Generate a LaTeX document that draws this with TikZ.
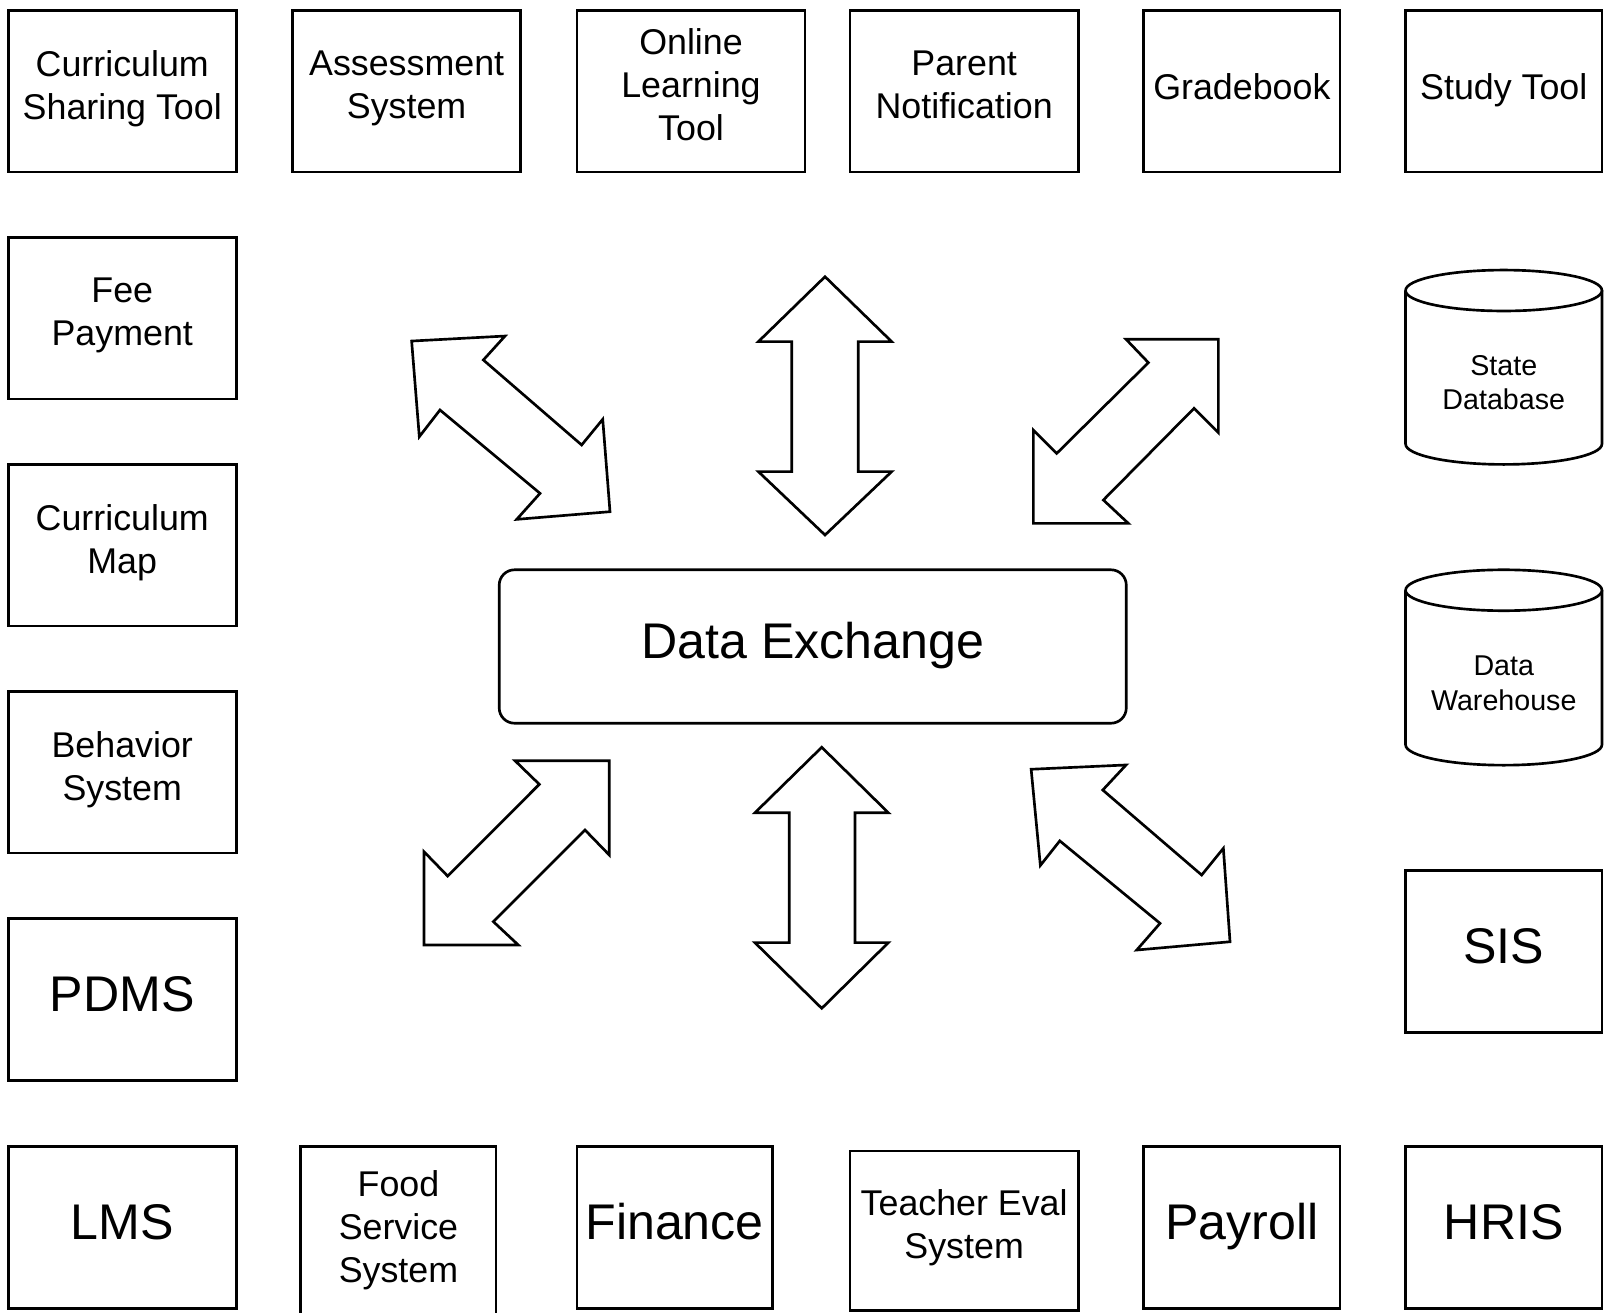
\documentclass[tikz,border=0pt]{standalone}
\usepackage{fontspec}
\setmainfont{Liberation Sans}
\begin{document}
\begin{tikzpicture}[x=1pt,y=-1pt,
  box/.style={draw, line width=2.6pt, minimum width=223pt, minimum height=158pt, inner sep=0pt, align=center, font=\fontsize{35}{42}\selectfont, execute at begin node=\strut, execute at end node=\strut},
  nbox/.style={box, minimum width=192pt},
  big/.style={font=\fontsize{49}{58}\selectfont},
  cyltext/.style={align=center, inner sep=0pt, font=\fontsize{28}{34}\selectfont},
  hub/.style={draw, line width=2.6pt, rounded corners=15pt, minimum width=613pt, minimum height=150pt, inner sep=0pt, font=\fontsize{49}{58}\selectfont, execute at begin node=\strut},
  dblarrow/.style={draw, fill=white, line width=2.6pt, line join=miter},
  cyl/.style={draw, fill=white, line width=2.6pt}
]
\useasboundingbox (0,0) rectangle (1568,1283.5);

% top row
\node[box] (cst) at (119.5,89) {Curriculum\\Sharing Tool};
\node[box] (asm) at (397.5,89) {Assessment\\System};
\node[box] (olt) at (675.5,89) {Online\\Learning\\Tool};
\node[box] (pn)  at (942.5,89) {Parent\\Notification};
\node[nbox] (gb) at (1214,89) {Gradebook};
\node[nbox] (st) at (1470,89) {Study Tool};

% left column
\node[box] (fee) at (119.5,311) {Fee\\Payment};
\node[box] (cm)  at (119.5,533) {Curriculum\\Map};
\node[box] (beh) at (119.5,755) {Behavior\\System};
\node[box,big] (pdms) at (119.5,977) {PDMS};

% bottom row
\node[box,big] (lms) at (119.5,1200) {LMS};
\node[box, minimum width=191pt, minimum height=168pt] (food) at (389.5,1205) {Food\\Service\\System};
\node[box,big, minimum width=191pt] (fin) at (659.5,1200) {Finance};
\node[box, minimum height=156pt] (tes) at (942.5,1203) {Teacher Eval\\System};
\node[nbox,big] (pay) at (1214,1200) {Payroll};
\node[nbox,big] (hris) at (1470,1200) {HRIS};

% right column
\node[nbox,big] (sis) at (1470,930) {SIS};

% cylinders
\draw[cyl] (1374,284) -- (1374,434)
  .. controls (1374,445.05) and (1416.98,454) .. (1470,454)
  .. controls (1523.02,454) and (1566,445.05) .. (1566,434)
  -- (1566,284);
\draw[cyl] (1470,284) ellipse [x radius=96, y radius=20];
\node[cyltext] (sdb) at (1470,374) {State\\Database};

\draw[cyl] (1374,577) -- (1374,728)
  .. controls (1374,739.05) and (1416.98,748) .. (1470,748)
  .. controls (1523.02,748) and (1566,739.05) .. (1566,728)
  -- (1566,577);
\draw[cyl] (1470,577) ellipse [x radius=96, y radius=20];
\node[cyltext] (dw) at (1470,668) {Data\\Warehouse};

% hub
\node[hub] (dx) at (794.5,632) {Data Exchange};

% arrows
\draw[dblarrow] (402.4,333.4) -- (493.7,328.5) -- (472.5,351.9) -- (568.6,435) -- (589.2,409.9)
  -- (596.3,500.2) -- (505.1,507.7) -- (527.9,482.3) -- (430.1,400.8) -- (409.9,426.9) -- cycle;
\draw[dblarrow] (806.5,270.5) -- (871.7,334) -- (839,334) -- (839,461) -- (871.7,461)
  -- (806.5,523) -- (741.3,461) -- (774,461) -- (774,334) -- (741.3,334) -- cycle;
\draw[dblarrow] (1191,331.7) -- (1100.8,331.7) -- (1122.6,354.5) -- (1033,443.2) -- (1010.2,420.4)
  -- (1010.2,511.6) -- (1103,511.6) -- (1078.6,488.8) -- (1167.2,399.2) -- (1191,423) -- cycle;
\draw[dblarrow] (595.6,743.6) -- (503.4,743.6) -- (527.2,766.7) -- (437.6,856.4) -- (414.5,832.6)
  -- (414.5,923.8) -- (506.7,923.8) -- (482.3,901) -- (571.9,811.4) -- (595.6,835.8) -- cycle;
\draw[dblarrow] (803.3,730.5) -- (868.4,794.5) -- (835.8,794.5) -- (835.8,921.5) -- (868.4,921.5)
  -- (803.3,985.7) -- (738,921.5) -- (771.6,921.5) -- (771.6,794.5) -- (738,794.5) -- cycle;
\draw[dblarrow] (1008,752) -- (1100.8,747.8) -- (1078,772.3) -- (1174.7,855.4) -- (1195.9,829.3)
  -- (1202.4,920.6) -- (1111.2,928.7) -- (1134,902.6) -- (1036,822) -- (1017,846) -- cycle;
\end{tikzpicture}
\end{document}
